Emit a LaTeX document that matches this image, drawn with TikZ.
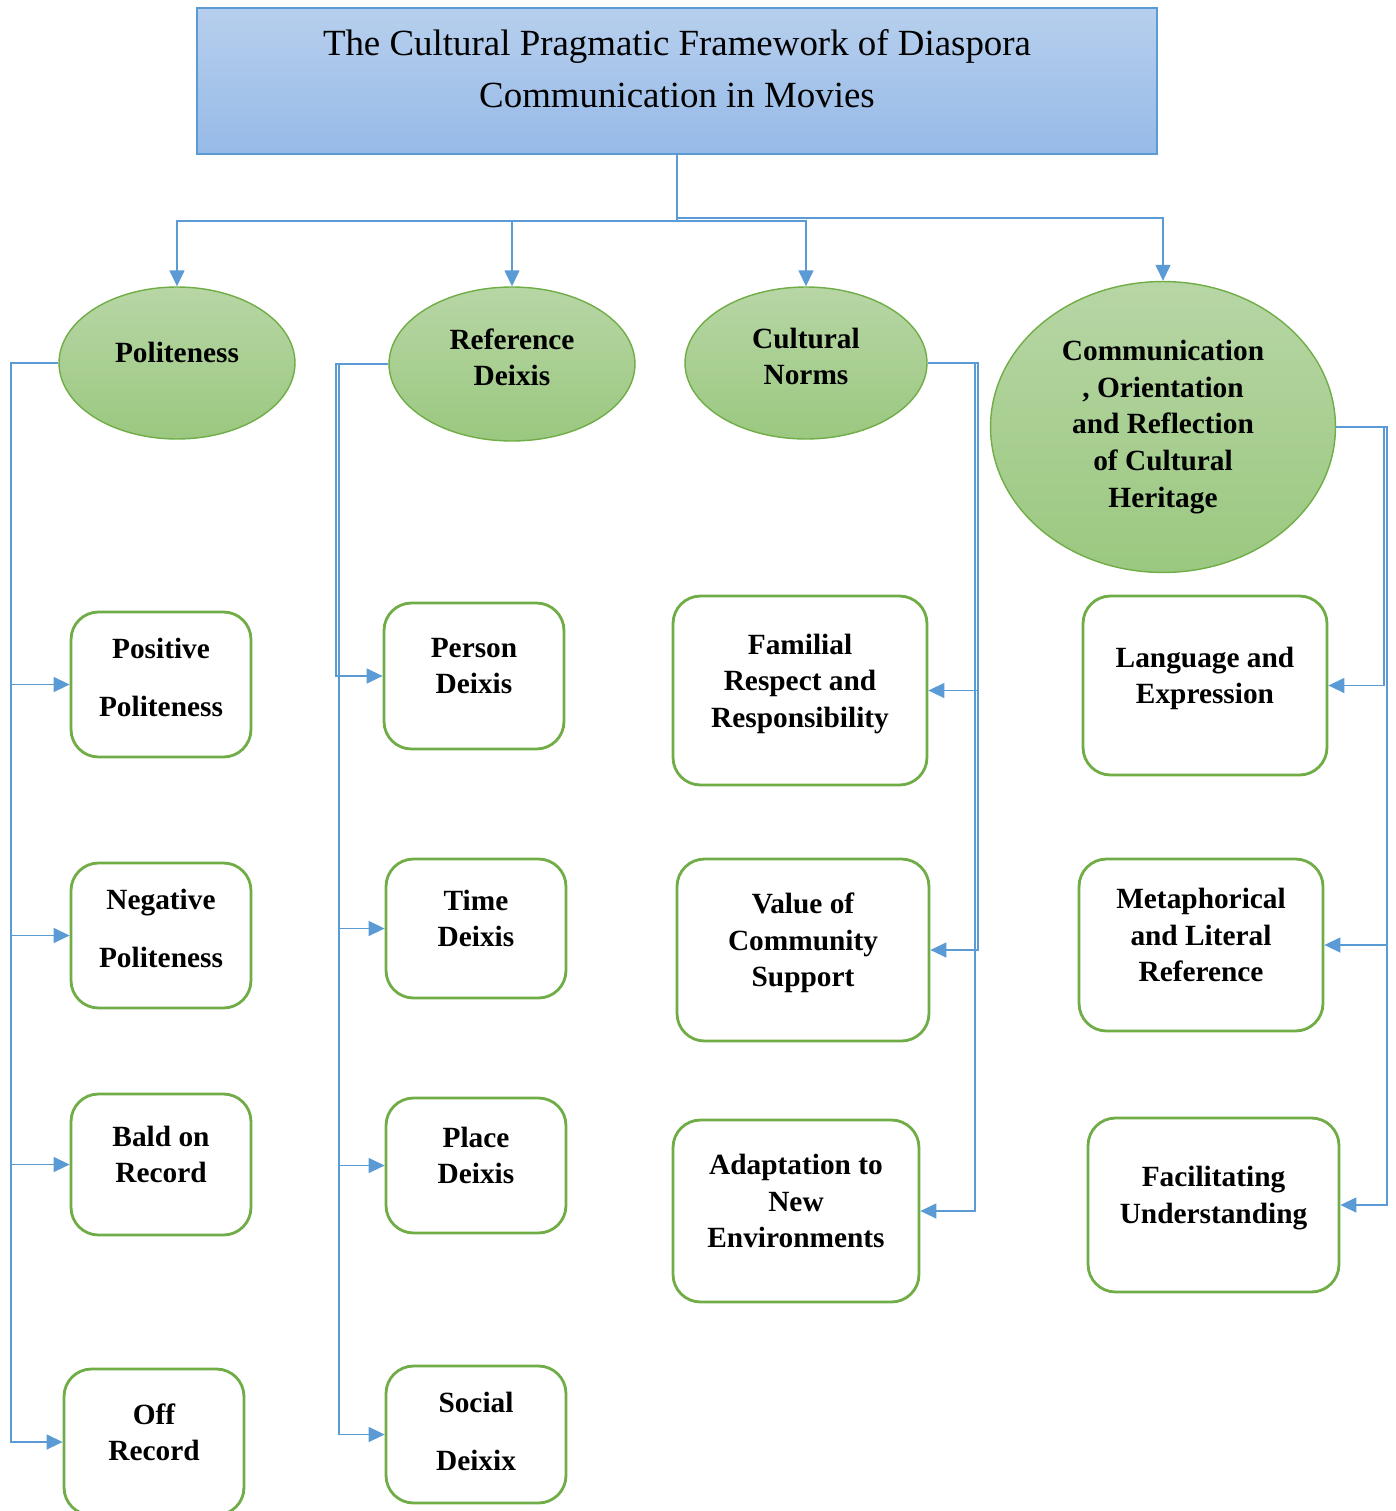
\documentclass[tikz,border=0pt]{standalone}
\usepackage{fontspec}
\setmainfont{Liberation Serif}
\usetikzlibrary{arrows.meta,shapes.geometric}

\definecolor{linkblue}{RGB}{91,155,213}
\definecolor{headtop}{RGB}{183,207,237}
\definecolor{headbot}{RGB}{150,186,231}
\definecolor{leafgreen}{RGB}{112,173,71}
\definecolor{topictop}{RGB}{183,214,165}
\definecolor{topicbot}{RGB}{155,200,128}

\tikzset{
  head/.style={draw=linkblue, line width=0.8pt, top color=headtop, bottom color=headbot,
    minimum width=19.2cm, minimum height=2.92cm, align=center, text depth=0.48cm,
    font=\fontsize{21}{29.6}\selectfont},
  topic/.style={ellipse, draw=leafgreen, line width=0.8pt, top color=topictop, bottom color=topicbot,
    inner sep=0pt, align=center, font=\bfseries\fontsize{16.7}{20.8}\selectfont},
  leaf/.style={draw=leafgreen, line width=1.6pt, rounded corners=0.55cm, fill=white,
    inner sep=0pt, align=center, text depth=0.4cm, font=\bfseries\fontsize{16.7}{20.8}\selectfont},
  link/.style={draw=linkblue, line width=0.8pt, -{Triangle[length=0.32cm,width=0.3cm]}},
}

\begin{document}
\begin{tikzpicture}[x=0.02cm, y=-0.02cm]
  \useasboundingbox (0,0) rectangle (1396,1511);

  % title
  \node[head] (head) at (677,81) {The Cultural Pragmatic Framework of Diaspora\\Communication in Movies};

  % main topics
  \node[topic, minimum width=4.72cm, minimum height=3.04cm, text depth=0.44cm] (pol) at (177,363) {Politeness};
  \node[topic, minimum width=4.92cm, minimum height=3.08cm, text depth=0.28cm] (ref) at (512,364) {Reference\\Deixis};
  \node[topic, minimum width=4.84cm, minimum height=3.04cm, text depth=0.26cm] (cn) at (806,363) {Cultural\\Norms};
  \node[topic, minimum width=6.9cm, minimum height=5.82cm] (comm) at (1163,427)
    {Communication\\, Orientation\\and Reflection\\of Cultural\\Heritage};

  % politeness
  \node[leaf, minimum width=3.6cm, minimum height=2.9cm, text depth=0.28cm] (pos) at (161,684.5) {Positive\\[0.43cm]Politeness};
  \node[leaf, minimum width=3.6cm, minimum height=2.9cm, text depth=0.28cm] (neg) at (161,935.5) {Negative\\[0.43cm]Politeness};
  \node[leaf, minimum width=3.6cm, minimum height=2.82cm] (bald) at (161,1164.5) {Bald on\\Record};
  \node[leaf, minimum width=3.6cm, minimum height=2.92cm] (off) at (154,1442) {Off\\Record};

  % reference deixis
  \node[leaf, minimum width=3.6cm, minimum height=2.92cm] (person) at (474,676) {Person\\Deixis};
  \node[leaf, minimum width=3.6cm, minimum height=2.78cm] (time) at (476,928.5) {Time\\Deixis};
  \node[leaf, minimum width=3.6cm, minimum height=2.7cm] (place) at (476,1165.5) {Place\\Deixis};
  \node[leaf, minimum width=3.6cm, minimum height=2.74cm, text depth=0.12cm] (social) at (476,1434.5) {Social\\[0.43cm]Deixix};

  % cultural norms
  \node[leaf, minimum width=5.08cm, minimum height=3.78cm] (fam) at (800,690.5) {Familial\\Respect and\\Responsibility};
  \node[leaf, minimum width=5.04cm, minimum height=3.64cm] (val) at (803,950) {Value of\\Community\\Support};
  \node[leaf, minimum width=4.92cm, minimum height=3.64cm] (adapt) at (796,1211) {Adaptation to\\New\\Environments};

  % communication
  \node[leaf, minimum width=4.88cm, minimum height=3.58cm] (lang) at (1205,685.5) {Language and\\Expression};
  \node[leaf, minimum width=4.88cm, minimum height=3.44cm] (meta) at (1201,945) {Metaphorical\\and Literal\\Reference};
  \node[leaf, minimum width=5.02cm, minimum height=3.48cm] (facil) at (1213.5,1205) {Facilitating\\Understanding};

  % connectors from the title
  \coordinate (hubL) at (677,221);
  \coordinate (hubR) at (677,218);
  \foreach \t in {pol,ref,cn}
    \draw[link] (head.south) -- (hubL) -| (\t.north);
  \draw[link] (head.south) -- (hubR) -| (comm.north);

  % buses
  \coordinate (polbus) at (11,0);
  \coordinate (refbusA) at (336,0);
  \coordinate (refbusB) at (339,0);
  \coordinate (cnbusA) at (978,0);
  \coordinate (cnbusB) at (975,0);
  \coordinate (commbusA) at (1387,0);
  \coordinate (commbusB) at (1384,0);

  \foreach \n in {pos,neg,bald,off}
    \draw[link] (pol.west) -- (pol.west -| polbus) |- (\n.west);

  \draw[link] (ref.west) -- (ref.west -| refbusA) |- (person.west);
  \foreach \n in {time,place,social}
    \draw[link] (ref.west) -- (ref.west -| refbusB) |- (\n.west);

  \foreach \n in {fam,val}
    \draw[link] (cn.east) -- (cn.east -| cnbusA) |- (\n.east);
  \draw[link] (cn.east) -- (cn.east -| cnbusB) |- (adapt.east);

  \draw[link] (comm.east) -- (comm.east -| commbusB) |- (lang.east);
  \foreach \n in {meta,facil}
    \draw[link] (comm.east) -- (comm.east -| commbusA) |- (\n.east);
\end{tikzpicture}
\end{document}
